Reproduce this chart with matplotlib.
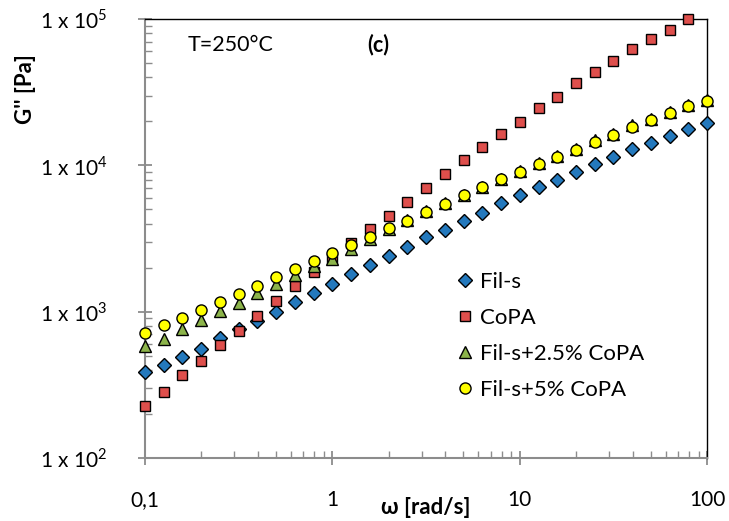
import numpy as np
import matplotlib
matplotlib.use("Agg")
import matplotlib.pyplot as plt
from matplotlib.ticker import LogLocator, FixedLocator, FuncFormatter, NullFormatter

plt.rcParams['font.family'] = ['Lato', 'DejaVu Sans']
plt.rcParams['mathtext.fontset'] = 'custom'
plt.rcParams['mathtext.rm'] = 'Lato'

# angular frequency (rad/s), 10 points per decade
omega = [0.1, 0.126, 0.158, 0.2, 0.251, 0.316, 0.398, 0.501, 0.631, 0.794,
         1.0, 1.26, 1.58, 2.0, 2.51, 3.16, 3.98, 5.01, 6.31, 7.94,
         10.0, 12.6, 15.8, 20.0, 25.1, 31.6, 39.8, 50.1, 63.1, 79.4, 100.0]

fil_s = [388, 430, 487, 558, 664, 764, 857, 1002, 1173, 1339,
         1551, 1815, 2070, 2410, 2747, 3214, 3620, 4175, 4735, 5540,
         6290, 7130, 7960, 9030, 10240, 11430, 12970, 14250, 15910, 17760, 19510]

copa = [225, 284, 369, 462, 588, 741, 928, 1174, 1487, 1853,
        2334, 2924, 3665, 4517, 5657, 6987, 8747, 10790, 13310, 16330,
        19910, 24570, 29480, 36410, 43290, 51990, 62500, 73250, 84400, 99800]

fil_s_25 = [578, 653, 764, 871, 1014, 1145, 1340, 1551, 1767, 2060,
            2300, 2700, 3150, 3700, 4250, 4850, 5500, 6250, 7150, 8100,
            9150, 10300, 11650, 12950, 14800, 16450, 18750, 20850, 23200, 25800, 27900]

fil_s_5 = [715, 810, 903, 1031, 1163, 1325, 1503, 1713, 1955, 2217,
           2515, 2850, 3233, 3702, 4196, 4788, 5455, 6221, 7102, 8048,
           9074, 10195, 11485, 12766, 14550, 16150, 18410, 20460, 22740, 25250, 27310]

labels = ["Fil-s", "CoPA", "Fil-s+2.5% CoPA", "Fil-s+5% CoPA"]
x_ticks = [0.1, 1, 10, 100]
x_tick_labels = ["0,1", "1", "10", "100"]
y_ticks = [1e2, 1e3, 1e4, 1e5]

fig = plt.figure(figsize=(7.29, 5.21), dpi=100)
ax = fig.add_axes([0.199, 0.121, 0.771, 0.8425])

ax.set_xscale('log')
ax.set_yscale('log')
ax.set_xlim(0.1, 100)
ax.set_ylim(1e2, 1e5)

kw = dict(linestyle='none', markeredgecolor='black', markeredgewidth=1.0, clip_on=False)
ax.plot(omega, fil_s, marker='D', markersize=7.2, markerfacecolor='#2479BD', label=labels[0], zorder=3, **kw)
ax.plot(omega[:len(copa)], copa, marker='s', markersize=7.5, markerfacecolor='#DE4F4C', label=labels[1], zorder=3, **kw)
ax.plot(omega, fil_s_25, marker='^', markersize=9, markerfacecolor='#8CB44A', label=labels[2], zorder=3, **kw)
ax.plot(omega, fil_s_5, marker='o', markersize=8, markerfacecolor='#FFFF00', label=labels[3], zorder=4, **kw)

# spines
for s in ['left', 'bottom']:
    ax.spines[s].set_color('#8C8C8C')
    ax.spines[s].set_linewidth(1.5)
for s in ['top', 'right']:
    ax.spines[s].set_color('black')
    ax.spines[s].set_linewidth(1.0)

ax.xaxis.set_major_locator(FixedLocator(x_ticks))
ax.xaxis.set_major_formatter(FuncFormatter(lambda v, p: x_tick_labels[x_ticks.index(min(x_ticks, key=lambda t: abs(t - v)))]))
ax.xaxis.set_minor_locator(LogLocator(base=10, subs=np.arange(2, 10)))
ax.xaxis.set_minor_formatter(NullFormatter())

ax.yaxis.set_major_locator(FixedLocator(y_ticks))
ax.yaxis.set_major_formatter(FuncFormatter(lambda v, p: r'1 x 10$^{%d}$' % int(round(np.log10(v)))))
ax.yaxis.set_minor_locator(LogLocator(base=10, subs=np.arange(2, 10)))
ax.yaxis.set_minor_formatter(NullFormatter())

ax.tick_params(which='major', direction='inout', length=10, width=1.3, color='#8C8C8C',
               labelsize=15, labelcolor='black')
ax.tick_params(which='minor', direction='in', length=5, width=1.0, color='#8C8C8C')
ax.tick_params(axis='x', which='major', pad=18)
ax.tick_params(axis='y', which='major', pad=22)
ax.tick_params(top=False, right=False, which='both')

ax.set_xlabel('ω [rad/s]', fontsize=16, fontweight='bold')
ax.xaxis.set_label_coords(0.5, -0.09)
ax.set_ylabel("G'' [Pa]", fontsize=16, fontweight='bold')
ax.yaxis.set_label_coords(-0.194, 0.84)

ax.text(0.075, 0.941, 'T=250°C', transform=ax.transAxes, fontsize=15.5, va='center', ha='left')
ax.text(0.395, 0.941, '(c)', transform=ax.transAxes, fontsize=15.5, fontweight='bold', va='center', ha='left')

leg = ax.legend(loc='upper left', bbox_to_anchor=(0.531, 0.445), frameon=False, fontsize=16,
                handletextpad=0.15, labelspacing=0.72, handlelength=1.1, borderaxespad=0)

fig.savefig('out.png', dpi=100)
